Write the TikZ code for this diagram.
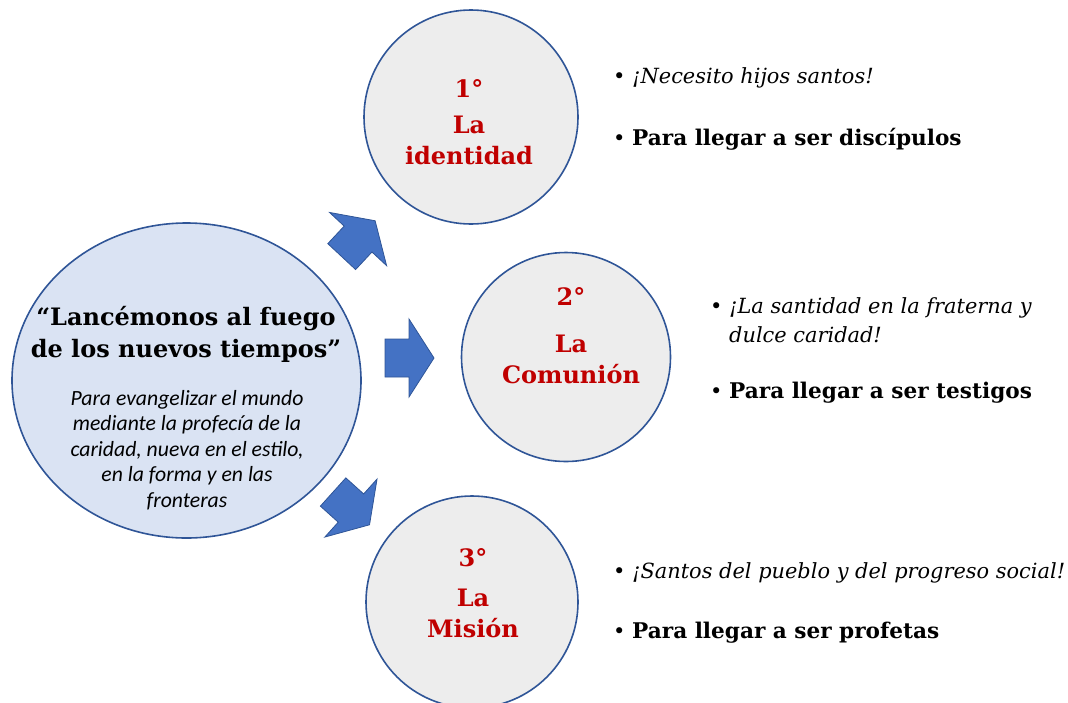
\documentclass[tikz,border=0pt]{standalone}
\usepackage{fontspec}
\setmainfont{DejaVu Serif}
\newfontfamily\calibri{Carlito}
\usetikzlibrary{positioning,shapes.geometric}
\definecolor{edgeblue}{HTML}{2F5597}
\definecolor{arrowblue}{HTML}{4472C4}
\definecolor{ovalfill}{HTML}{DAE3F3}
\definecolor{discfill}{HTML}{EDEDED}
\definecolor{stepred}{HTML}{C00000}

\begin{document}
\begin{tikzpicture}[x=1pt, y=-1pt,
  disc/.style={circle, draw=edgeblue, line width=1.6pt, fill=discfill, minimum size=#1, inner sep=0pt},
  oval/.style={ellipse, draw=edgeblue, line width=1.6pt, fill=ovalfill, minimum width=349pt, minimum height=315pt, inner sep=0pt},
  steptext/.style={anchor=base, align=center, text=stepred, inner sep=0pt, font=\fontsize{24}{31}\selectfont\bfseries},
  itemtext/.style={anchor=base west, align=left, inner sep=0pt, font=\fontsize{21}{29}\selectfont},
  blockarrow/.pic={\draw[edgeblue, line width=0.8pt, fill=arrowblue]
      (0,-19) -- (24,-19) -- (24,-39) -- (49,0) -- (24,39) -- (24,19) -- (0,19) -- cycle;}]
  \useasboundingbox (0,0) rectangle (1068,702);

  % central idea
  \node[oval] (theme) at (186.5,380.5) {};
  \node[anchor=base, align=center, inner sep=0pt, font=\fontsize{24}{32}\selectfont\bfseries] (motto) at (186,357)
    {“Lancémonos al fuego\\de los nuevos tiempos”};
  \node[anchor=base, align=center, inner sep=0pt, font=\calibri\itshape\fontsize{21.7}{25.5}\selectfont] (aim) at (187,507)
    {Para evangelizar el mundo\\mediante la profecía de la\\caridad, nueva en el estilo,\\en la forma y en las\\fronteras};

  % the three steps
  \node[disc=214pt] (identity) at (471,117) {};
  \node[disc=209pt] (communion) at (566,357) {};
  \node[disc=212pt] (mission) at (472,602) {};
  \node[steptext] (identityname) at (469,164) {1°\\[5pt]La\\identidad};
  \node[steptext] (communionname) at (571,383) {2°\\[16pt]La\\Comunión};
  \node[steptext] (missionname) at (473,637) {3°\\[9pt]La\\Misión};

  \foreach \x/\y/\a in {341.7/256.6/47, 385/358/0, 333.1/492/-42}
    \pic[rotate=\a] at (\x,\y) {blockarrow};

  % what each step asks for
  \node[itemtext] (saints) at (613,83) {\makebox[19pt][l]{•}\fontsize{20.9}{29}\selectfont\itshape ¡Necesito hijos santos!};
  \node[itemtext] (disciples) at (613,145) {\makebox[19pt][l]{•}\fontsize{21.6}{29}\selectfont\bfseries Para llegar a ser discípulos};
  \node[itemtext] (charity) at (710,342) {\makebox[19pt][l]{•}\fontsize{20.9}{29}\selectfont\itshape ¡La santidad en la fraterna y\\\hspace*{19pt}\fontsize{20.9}{29}\selectfont\itshape dulce caridad!};
  \node[itemtext] (witnesses) at (710,398) {\makebox[19pt][l]{•}\fontsize{21.6}{29}\selectfont\bfseries Para llegar a ser testigos};
  \node[itemtext] (people) at (613,578) {\makebox[19pt][l]{•}\fontsize{20.9}{29}\selectfont\itshape ¡Santos del pueblo y del progreso social!};
  \node[itemtext] (prophets) at (613,638) {\makebox[19pt][l]{•}\fontsize{21.6}{29}\selectfont\bfseries Para llegar a ser profetas};
\end{tikzpicture}
\end{document}
